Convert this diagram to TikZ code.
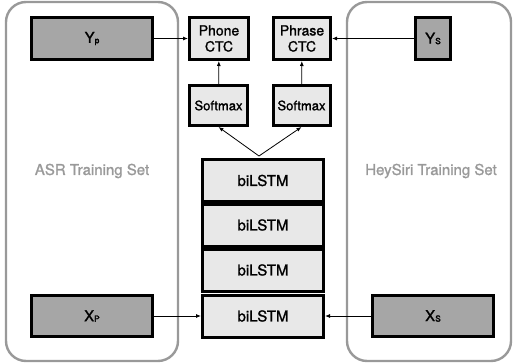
\documentclass[tikz,border=0pt]{standalone}
\usepackage{fontspec}
\setmainfont{TeX Gyre Heros}[BoldFont={TeX Gyre Heros}, BoldFeatures={FakeBold=1.3}]
\usetikzlibrary{arrows.meta, calc}

% small subscript sitting near the baseline
\newcommand{\subl}[1]{{\fontsize{8.5}{9}\selectfont\raisebox{-0.5pt}{#1}}}

\begin{document}
\begin{tikzpicture}[x=1pt, y=-1pt, >={Latex[length=5pt, width=4pt]},
    every node/.style={font=\bfseries},
    setbox/.style={draw=black!40, line width=2.4pt, rounded corners=20pt},
    setlabel/.style={text=black!40, font=\fontsize{15}{17}\selectfont\bfseries},
    datbox/.style={draw, line width=3pt, fill=black!35, inner sep=0pt, font=\fontsize{15}{17}\selectfont\bfseries},
    netbox/.style={draw, line width=3pt, fill=black!9, inner sep=0pt, align=center},
    link/.style={->, line width=0.8pt}]
        % Granice slike
        \useasboundingbox (0,0) rectangle (514,364);
        \def\lstmX{263} % x-pozicija stoga biLSTM
        \def\lstmH{42} % visina jednog bloka

        % Skupovi za treniranje
        \draw[setbox] (6,2) rectangle (178,361);
        \draw[setbox] (347,2) rectangle (511,361);
        \node[setlabel] (asrlbl) at (92,171) {ASR Training Set};
        \node[setlabel] (heylbl) at (431,171) {HeySiri Training Set};

        % Ulazi i oznake
        \node[datbox, minimum width=121, minimum height=42] (yp) at (92,38.5) {Y\subl{p}};
        \node[datbox, minimum width=35, minimum height=42] (ys) at (433,38.5) {Y\subl{S}};
        \node[datbox, minimum width=121, minimum height=41] (xp) at (92,316) {X\subl{P}};
        \node[datbox, minimum width=121, minimum height=41] (xs) at (433,316) {X\subl{S}};

        % CTC i Softmax
        \node[netbox, minimum width=59, minimum height=42, font=\fontsize{14}{16}\selectfont\bfseries] (phonectc) at (219,38.5) {Phone\\CTC};
        \node[netbox, minimum width=57, minimum height=42, font=\fontsize{14}{16}\selectfont\bfseries] (phrasectc) at (302,38.5) {Phrase\\CTC};
        \node[netbox, minimum width=58, minimum height=40, font=\fontsize{13}{15}\selectfont\bfseries] (smL) at (218.5,105.5) {Softmax};
        \node[netbox, minimum width=57, minimum height=40, font=\fontsize{13}{15}\selectfont\bfseries] (smR) at (301.5,105.5) {Softmax};

        % Stog biLSTM
        \foreach \i/\y in {1/180.5, 2/225, 3/270, 4/316} {
            \node[netbox, minimum width=121, minimum height=\lstmH, font=\fontsize{15}{17}\selectfont\bfseries] (lstm\i) at (\lstmX,\y) {biLSTM};
        }

        % Veze
        \coordinate (split) at ($(lstm1.north)+(-4,-2)$);
        \draw[link] (split) -- (smL.south);
        \draw[link] (split) -- (smR.south);
        \draw[link] (smL) -- (phonectc);
        \draw[link] (smR) -- (phrasectc);
        \draw[link] (yp) -- (phonectc);
        \draw[link] (ys) -- (phrasectc);
        \draw[link] (xp) -- (lstm4);
        \draw[link] (xs) -- (lstm4);
\end{tikzpicture}
\end{document}
